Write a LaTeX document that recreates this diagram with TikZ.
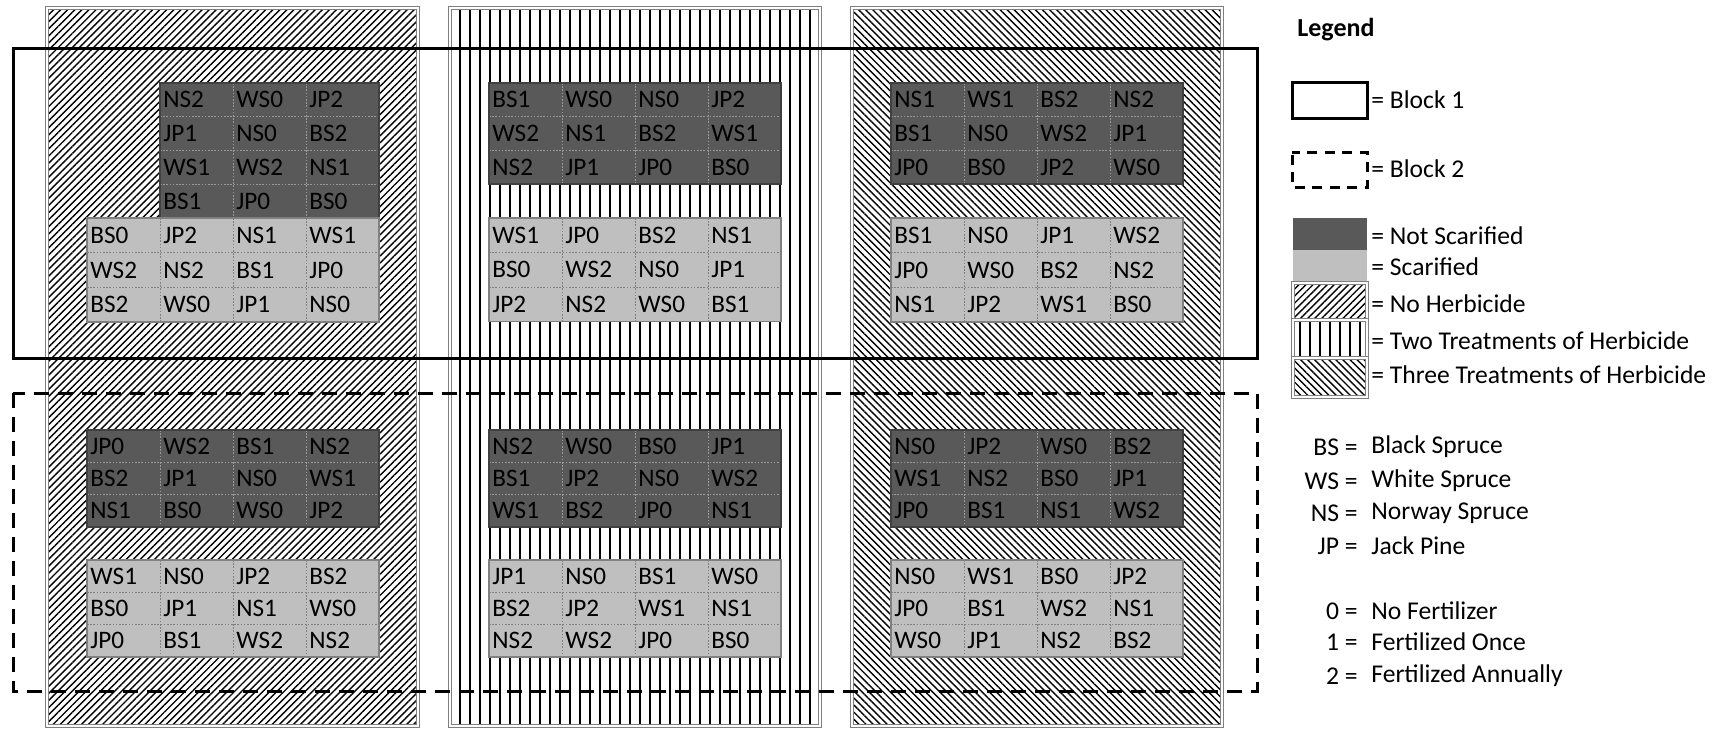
\documentclass[tikz,border=0pt]{standalone}
\usepackage{fontspec}
\setmainfont{Carlito}
\usetikzlibrary{patterns.meta}
\definecolor{darkcell}{HTML}{595959}
\definecolor{lightcell}{HTML}{BFBFBF}
\definecolor{stripgray}{HTML}{7F7F7F}
\tikzset{
 cell/.style={anchor=west, inner sep=0pt, font=\fontsize{12.6}{14}\selectfont, text=black},
 darkfill/.style={fill=darkcell},
 lightfill/.style={fill=lightcell},
 darkdots/.style={draw=black!40, line width=0.5pt, dash pattern=on 0.8pt off 0.8pt},
 lightdots/.style={draw=black!50, line width=0.5pt, dash pattern=on 0.8pt off 0.8pt},
 darkborder/.style={draw=black!75, line width=0.6pt},
 lightborder/.style={draw=black!50, line width=0.6pt},
 strip/.style={draw=stripgray, line width=0.7pt, double=white, double distance=0.7pt},
 hatchA/.style={pattern={Lines[angle=45,distance=2.5pt,line width=0.7pt]}, pattern color=black},
 hatchB/.style={pattern={Lines[angle=90,distance=5pt,line width=1.25pt]}, pattern color=black},
 hatchC/.style={pattern={Lines[angle=-45,distance=2.5pt,line width=0.7pt]}, pattern color=black},
 blockone/.style={draw=black, line width=1.5pt},
 blocktwo/.style={draw=black, line width=1.5pt, dash pattern=on 7.5pt off 4.5pt},
 legdash/.style={draw=black, line width=1.5pt, dash pattern=on 5pt off 3.75pt, dash phase=7.5pt},
 legtext/.style={anchor=west, inner sep=0pt, font=\fontsize{12.8}{14}\selectfont},
 legabbr/.style={anchor=east, inner sep=0pt, font=\fontsize{12.8}{14}\selectfont},
 legtitle/.style={anchor=west, inner sep=0pt, font=\fontsize{13}{15}\selectfont\bfseries},
}
% #1 name, #2 x0, #3 y0, #4 ncols, #5 nrows, #6 row height, #7 kind, #8 rows
\newcommand\plotgrid[8]{%
  \pgfmathsetmacro\gxb{#2+#4*73}%
  \pgfmathsetmacro\gyb{#3+#5*#6}%
  \fill[#7fill] (#2,#3) rectangle (\gxb,\gyb);
  \foreach \i in {2,...,#4} { \draw[#7dots] ({#2+(\i-1)*73},#3) -- ({#2+(\i-1)*73},\gyb); }
  \foreach \j in {2,...,#5} { \draw[#7dots] (#2,{#3+(\j-1)*#6}) -- (\gxb,{#3+(\j-1)*#6}); }
  \draw[#7border] (#2,#3) rectangle (\gxb,\gyb);
  \foreach \rw [count=\r from 0] in {#8} {
    \foreach \lab [count=\c from 0] in \rw {
      \node[cell] (#1-\r-\c) at ({#2+\c*73+3},{#3+(\r+0.5)*#6}) {\lab};
    }
  }
}
\begin{document}
\begin{tikzpicture}[x=0.5pt,y=-0.5pt]
\fill[white] (0,0) rectangle (1728,728);
\useasboundingbox (0,0) rectangle (1728,728);
% herbicide strips
\path[hatchA] (47,8) rectangle (418,726);
\draw[strip] (47,8) rectangle (418,726);
\path[hatchB] (450,8) rectangle (820,726);
\draw[strip] (450,8) rectangle (820,726);
\path[hatchC] (852,8) rectangle (1222,726);
\draw[strip] (852,8) rectangle (1222,726);
% grids, block 1
\plotgrid{aa}{160}{83}{3}{4}{33.75}{dark}{{NS2,WS0,JP2},{JP1,NS0,BS2},{WS1,WS2,NS1},{BS1,JP0,BS0}}
\plotgrid{ab}{87}{218}{4}{3}{34.67}{light}{{BS0,JP2,NS1,WS1},{WS2,NS2,BS1,JP0},{BS2,WS0,JP1,NS0}}
\plotgrid{ba}{489}{83}{4}{3}{33.67}{dark}{{BS1,WS0,NS0,JP2},{WS2,NS1,BS2,WS1},{NS2,JP1,JP0,BS0}}
\plotgrid{bb}{489}{218}{4}{3}{34.5}{light}{{WS1,JP0,BS2,NS1},{BS0,WS2,NS0,JP1},{JP2,NS2,WS0,BS1}}
\plotgrid{ca}{891}{83}{4}{3}{33.67}{dark}{{NS1,WS1,BS2,NS2},{BS1,NS0,WS2,JP1},{JP0,BS0,JP2,WS0}}
\plotgrid{cb}{891}{218}{4}{3}{34.67}{light}{{BS1,NS0,JP1,WS2},{JP0,WS0,BS2,NS2},{NS1,JP2,WS1,BS0}}
% grids, block 2
\plotgrid{da}{87}{430}{4}{3}{32.3}{dark}{{JP0,WS2,BS1,NS2},{BS2,JP1,NS0,WS1},{NS1,BS0,WS0,JP2}}
\plotgrid{db}{87}{560}{4}{3}{32.3}{light}{{WS1,NS0,JP2,BS2},{BS0,JP1,NS1,WS0},{JP0,BS1,WS2,NS2}}
\plotgrid{ea}{489}{430}{4}{3}{32.3}{dark}{{NS2,WS0,BS0,JP1},{BS1,JP2,NS0,WS2},{WS1,BS2,JP0,NS1}}
\plotgrid{eb}{489}{560}{4}{3}{32.3}{light}{{JP1,NS0,BS1,WS0},{BS2,JP2,WS1,NS1},{NS2,WS2,JP0,BS0}}
\plotgrid{fa}{891}{430}{4}{3}{32.3}{dark}{{NS0,JP2,WS0,BS2},{WS1,NS2,BS0,JP1},{JP0,BS1,NS1,WS2}}
\plotgrid{fb}{891}{560}{4}{3}{32.3}{light}{{NS0,WS1,BS0,JP2},{JP0,BS1,WS2,NS1},{WS0,JP1,NS2,BS2}}
% blocks
\draw[blockone] (13,48) rectangle (1257,358);
\draw[blocktwo] (13,393) rectangle (1257,691);
% legend
\node[legtitle] (legend) at (1297,30) {Legend};
\draw[blockone] (1292,82) rectangle (1367,118);
\node[legtext] (lb1) at (1371,100) {= Block 1};
\draw[legdash] (1292,152) rectangle (1367,187);
\node[legtext] (lb2) at (1371,169) {= Block 2};
\fill[darkcell] (1293,218) rectangle (1367,250);
\fill[lightcell] (1293,250) rectangle (1367,282);
\path[hatchA] (1293,283) rectangle (1367,320);
\draw[strip] (1293,283) rectangle (1367,320);
\path[hatchB] (1293,320) rectangle (1367,358);
\draw[strip] (1293,320) rectangle (1367,358);
\path[hatchC] (1293,358) rectangle (1367,397);
\draw[strip] (1293,358) rectangle (1367,397);
\node[legtext] (lns) at (1371,236) {= Not Scarified};
\node[legtext] (lsc) at (1371,267) {= Scarified};
\node[legtext] (lnh) at (1371,304) {= No Herbicide};
\node[legtext] (lth) at (1371,341) {= Two Treatments of Herbicide};
\node[legtext] (lhh) at (1371,375) {= Three Treatments of Herbicide};
% species
\node[legabbr] (abs) at (1358,447) {BS =};
\node[legtext] (nbs) at (1371,447) {Black Spruce};
\node[legabbr] (aws) at (1358,481) {WS =};
\node[legtext] (nws) at (1371,481) {White Spruce};
\node[legabbr] (ans) at (1358,513) {NS =};
\node[legtext] (nns) at (1371,513) {Norway Spruce};
\node[legabbr] (ajp) at (1358,546) {JP =};
\node[legtext] (njp) at (1371,546) {Jack Pine};
\node[legabbr] (af0) at (1358,611) {0 =};
\node[legtext] (nf0) at (1371,611) {No Fertilizer};
\node[legabbr] (af1) at (1358,642) {1 =};
\node[legtext] (nf1) at (1371,642) {Fertilized Once};
\node[legabbr] (af2) at (1358,676) {2 =};
\node[legtext] (nf2) at (1371,676) {Fertilized Annually};
\end{tikzpicture}
\end{document}
